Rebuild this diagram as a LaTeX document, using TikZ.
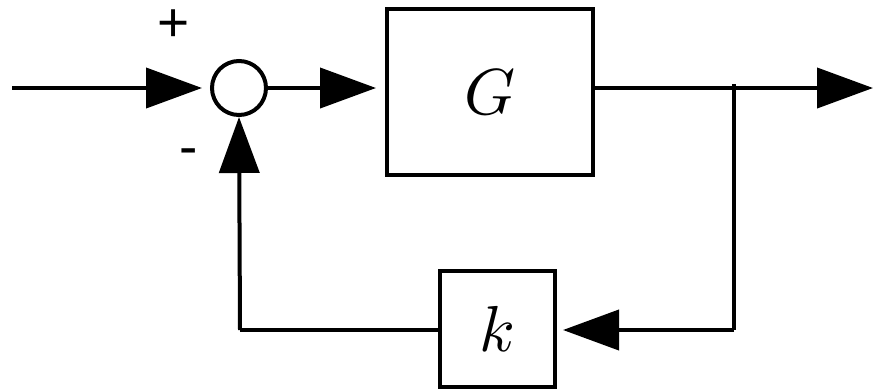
\documentclass[tikz,border=0pt]{standalone}
\usepackage{graphicx}
\usepackage{fontspec}
\newfontfamily\signfont{Liberation Sans}
\usetikzlibrary{arrows.meta}
\begin{document}
\begin{tikzpicture}[x=1pt,y=-1pt,
  wire/.style={line width=4pt},
  arr/.style={wire,-{Triangle[length=56pt,width=40pt]}},
  block/.style={draw,line width=4pt,inner sep=0pt},
  junction/.style={draw,circle,line width=4pt,inner sep=0pt,minimum size=54pt},
  sign/.style={inner sep=0pt}]
\useasboundingbox (0,0) rectangle (874,391);
\node[junction] (sum) at (239,88) {};
\node[block,minimum width=206pt,minimum height=166pt] (G) at (490,92) {\scalebox{6.5}{$G$}};
\node[block,minimum width=115pt,minimum height=116pt] (k) at (497.5,329) {\scalebox{6.5}{$k$}};
\coordinate (in) at (12,88);
\coordinate (out) at (873,88);
\coordinate (br) at (734,88);
\coordinate (brtop) at (734,84);
\coordinate (brbot) at (734,330);
\coordinate (fbl) at (240,330);
\node[sign] (plus) at (174,26) {\scalebox{5.5}{\signfont +}};
\node[sign] (minus) at (189,157) {\scalebox{5.5}{\signfont -}};
\draw[arr,shorten >=8pt] (in) -- (sum.west);
\draw[arr,shorten >=9pt] (sum.east) -- (sum.east -| G.west);
\draw[arr] (sum.east -| G.east) -- (out);
\draw[wire] (brtop) -- (brbot);
\draw[arr,shorten >=6pt] (brbot) -- (brbot -| k.east);
\draw[wire] (fbl -| k.west) -- (fbl);
\draw[arr] (fbl) -- (sum.south);
\end{tikzpicture}
\end{document}
